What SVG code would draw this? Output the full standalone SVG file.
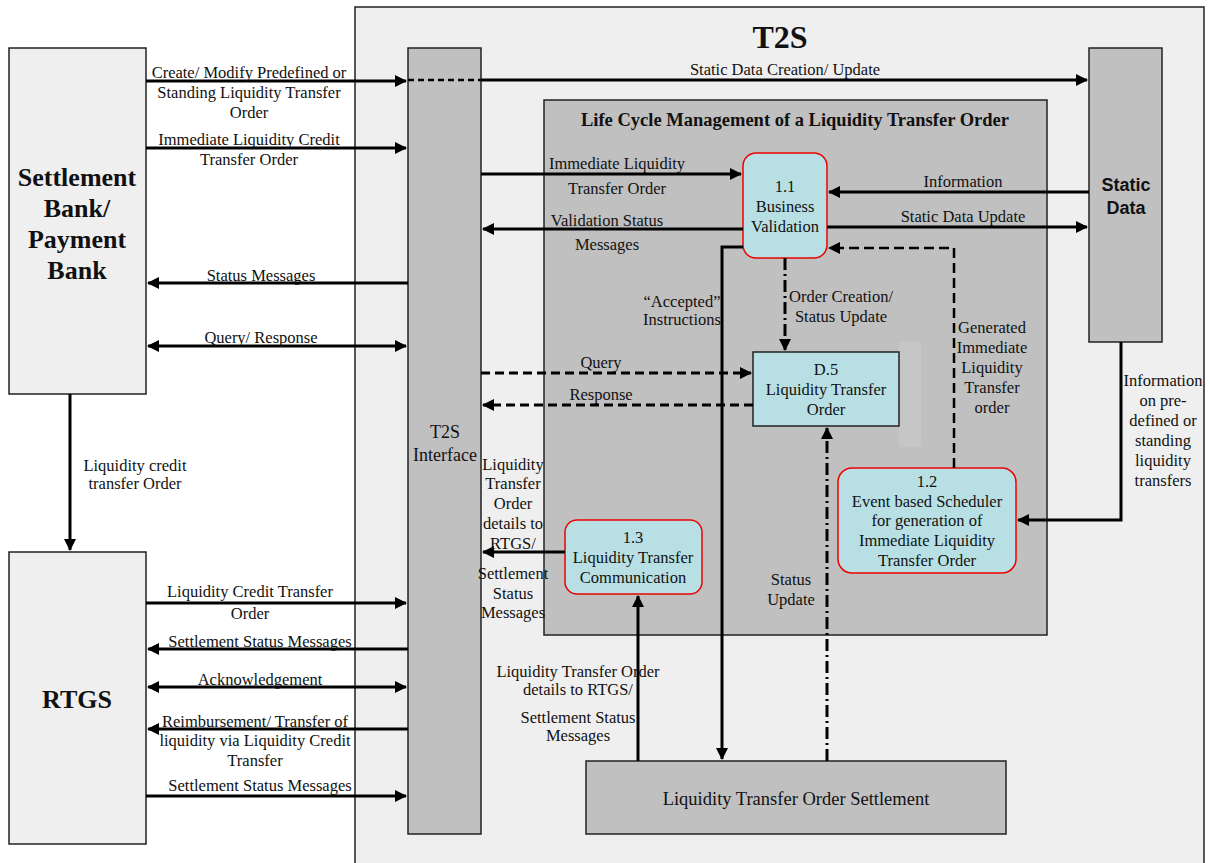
<svg xmlns="http://www.w3.org/2000/svg" width="1210" height="863" viewBox="0 0 1210 863">
<defs>
<style>
.t{font-family:"Liberation Serif","Times New Roman",serif;font-size:16.5px;fill:#111;text-anchor:middle}
.tb{font-family:"Liberation Serif","Times New Roman",serif;font-weight:bold;fill:#111;text-anchor:middle}
.box{fill:#efefef;stroke:#222;stroke-width:1.5}
.bar{fill:#c0c0c0;stroke:#222;stroke-width:1.5}
.proc{fill:#b8e0e4;stroke:#e00;stroke-width:1.5}
.c{fill:none;stroke:#000;stroke-width:3}
.d{fill:none;stroke:#000;stroke-width:3;stroke-dasharray:9 5}
.dd{fill:none;stroke:#000;stroke-width:2.5;stroke-dasharray:10 5}
.dc{fill:none;stroke:#000;stroke-width:3;stroke-dasharray:12 4 2 4}
</style>
<marker id="a" markerWidth="12" markerHeight="12" refX="11" refY="6" orient="auto-start-reverse" markerUnits="userSpaceOnUse"><path d="M0,0 L12,6 L0,12 z" fill="#000"/></marker>
</defs>
<rect width="1210" height="863" fill="#fff"/>
<g id="t2s"><rect x="355" y="7" width="849" height="870" class="box"/><text class="tb" x="780" y="48" font-size="32">T2S</text></g>
<g id="lcm"><rect x="544" y="100" width="503" height="535" class="bar"/><text class="tb" x="795" y="126" font-size="18.5">Life Cycle Management of a Liquidity Transfer Order</text></g>
<g id="settlement-bank"><rect x="9" y="48" width="137" height="346" class="box"/>
<text class="tb" font-size="26" x="77" y="186">Settlement</text><text class="tb" font-size="26" x="77" y="217">Bank/</text><text class="tb" font-size="26" x="77" y="248">Payment</text><text class="tb" font-size="26" x="77" y="279">Bank</text></g>
<g id="rtgs"><rect x="9" y="552" width="137" height="292" class="box"/><text class="tb" font-size="26" x="77" y="708">RTGS</text></g>
<g id="t2s-interface"><rect x="408" y="48" width="73" height="786" class="bar"/><text class="t" style="font-size:18px" x="445" y="438">T2S</text><text class="t" style="font-size:18px" x="445" y="461">Interface</text></g>
<g id="static-data"><rect x="1089" y="48" width="73" height="294" class="bar"/><text x="1126" y="191" font-family="Liberation Sans,Arial,sans-serif" font-weight="bold" font-size="18" text-anchor="middle" fill="#111">Static</text><text x="1126" y="214" font-family="Liberation Sans,Arial,sans-serif" font-weight="bold" font-size="18" text-anchor="middle" fill="#111">Data</text></g>
<g id="p11"><rect x="743" y="153" width="84" height="105" rx="13" class="proc"/><text class="t" x="785" y="192">1.1</text><text class="t" x="785" y="212">Business</text><text class="t" x="785" y="232">Validation</text></g>
<g id="d5"><rect x="899" y="342" width="22" height="105" fill="#c6c6c6"/><rect x="753" y="352" width="146" height="74" fill="#b8e0e4" stroke="#222" stroke-width="1.5"/><text class="t" x="826" y="375">D.5</text><text class="t" x="826" y="395">Liquidity Transfer</text><text class="t" x="826" y="415">Order</text></g>
<g id="p12"><rect x="838" y="468" width="178" height="105" rx="14" class="proc"/><text class="t" x="927" y="487">1.2</text><text class="t" x="927" y="507">Event based Scheduler</text><text class="t" x="927" y="526">for generation of</text><text class="t" x="927" y="546">Immediate Liquidity</text><text class="t" x="927" y="566">Transfer Order</text></g>
<g id="p13"><rect x="565" y="520" width="137" height="74" rx="12" class="proc"/><text class="t" x="633" y="543">1.3</text><text class="t" x="633" y="563">Liquidity Transfer</text><text class="t" x="633" y="583">Communication</text></g>
<g id="lto-settlement"><rect x="586" y="761" width="420" height="73" class="bar"/><text class="t" style="font-size:18.5px" x="796" y="805">Liquidity Transfer Order Settlement</text></g>
<g id="connectors">
<path class="c" d="M146,81 H406" marker-end="url(#a)"/>
<path d="M408,80 H481" fill="none" stroke="#000" stroke-width="2.5" stroke-dasharray="6 4"/>
<path class="c" d="M481,80 H1087" marker-end="url(#a)"/>
<path class="c" d="M146,148 H406" marker-end="url(#a)"/>
<path class="c" d="M408,283 H148" marker-end="url(#a)"/>
<path class="c" d="M148,346 H406" marker-start="url(#a)" marker-end="url(#a)"/>
<path class="c" d="M70,394 V550" marker-end="url(#a)"/>
<path class="c" d="M146,603 H406" marker-end="url(#a)"/>
<path class="c" d="M408,649 H148" marker-end="url(#a)"/>
<path class="c" d="M148,687 H406" marker-start="url(#a)" marker-end="url(#a)"/>
<path class="c" d="M408,729 H148" marker-end="url(#a)"/>
<path class="c" d="M146,796 H406" marker-end="url(#a)"/>
<path class="c" d="M481,174 H741" marker-end="url(#a)"/>
<path class="c" d="M743,229 H483" marker-end="url(#a)"/>
<path class="c" d="M1089,192 H829" marker-end="url(#a)"/>
<path class="c" d="M827,227 H1087" marker-end="url(#a)"/>
<path class="dd" d="M954,468 V248 H829" marker-end="url(#a)"/>
<path class="dc" d="M785,258 V350" marker-end="url(#a)"/>
<path class="c" d="M743,247 H722 V759" stroke-width="2.5" marker-end="url(#a)"/>
<path class="d" d="M481,373 H751" marker-end="url(#a)"/>
<path class="d" d="M753,405 H483" marker-end="url(#a)"/>
<path class="dc" d="M827,761 V428" marker-end="url(#a)"/>
<path class="c" d="M1121,342 V520 H1018" stroke-width="2.5" marker-end="url(#a)"/>
<path class="c" d="M565,552 H483" marker-end="url(#a)"/>
<path class="c" d="M638,761 V596" marker-end="url(#a)"/>
</g>
<g id="labels">
<text class="t" x="249" y="78">Create/ Modify Predefined or</text>
<text class="t" x="249" y="98">Standing Liquidity Transfer</text>
<text class="t" x="249" y="118">Order</text>
<text class="t" x="249" y="145">Immediate Liquidity Credit</text>
<text class="t" x="249" y="165">Transfer Order</text>
<text class="t" x="261" y="281">Status Messages</text>
<text class="t" x="261" y="343">Query/ Response</text>
<text class="t" x="135" y="471">Liquidity credit</text>
<text class="t" x="135" y="489">transfer Order</text>
<text class="t" x="250" y="597">Liquidity Credit Transfer</text>
<text class="t" x="250" y="619">Order</text>
<text class="t" x="260" y="647">Settlement Status Messages</text>
<text class="t" x="260" y="685">Acknowledgement</text>
<text class="t" x="255" y="727">Reimbursement/ Transfer of</text>
<text class="t" x="255" y="746">liquidity via Liquidity Credit</text>
<text class="t" x="255" y="766">Transfer</text>
<text class="t" x="260" y="791">Settlement Status Messages</text>
<text class="t" x="785" y="75">Static Data Creation/ Update</text>
<text class="t" x="617" y="169">Immediate Liquidity</text>
<text class="t" x="617" y="194">Transfer Order</text>
<text class="t" x="607" y="226">Validation Status</text>
<text class="t" x="607" y="250">Messages</text>
<text class="t" x="963" y="187">Information</text>
<text class="t" x="963" y="222">Static Data Update</text>
<text class="t" x="682" y="307">“Accepted”</text>
<text class="t" x="682" y="325">Instructions</text>
<text class="t" x="841" y="302">Order Creation/</text>
<text class="t" x="841" y="322">Status Update</text>
<text class="t" x="992" y="333">Generated</text>
<text class="t" x="992" y="353">Immediate</text>
<text class="t" x="992" y="373">Liquidity</text>
<text class="t" x="992" y="393">Transfer</text>
<text class="t" x="992" y="413">order</text>
<text class="t" x="601" y="368">Query</text>
<text class="t" x="601" y="400">Response</text>
<text class="t" x="1163" y="386">Information</text>
<text class="t" x="1163" y="406">on pre-</text>
<text class="t" x="1163" y="426">defined or</text>
<text class="t" x="1163" y="446">standing</text>
<text class="t" x="1163" y="466">liquidity</text>
<text class="t" x="1163" y="486">transfers</text>
<text class="t" x="513" y="470">Liquidity</text>
<text class="t" x="513" y="489">Transfer</text>
<text class="t" x="513" y="509">Order</text>
<text class="t" x="513" y="529">details to</text>
<text class="t" x="513" y="549">RTGS/</text>
<text class="t" x="513" y="579">Settlement</text>
<text class="t" x="513" y="599">Status</text>
<text class="t" x="513" y="618">Messages</text>
<text class="t" x="791" y="585">Status</text>
<text class="t" x="791" y="605">Update</text>
<text class="t" x="578" y="677">Liquidity Transfer Order</text>
<text class="t" x="578" y="695">details to RTGS/</text>
<text class="t" x="578" y="723">Settlement Status</text>
<text class="t" x="578" y="741">Messages</text>
</g>
</svg>
